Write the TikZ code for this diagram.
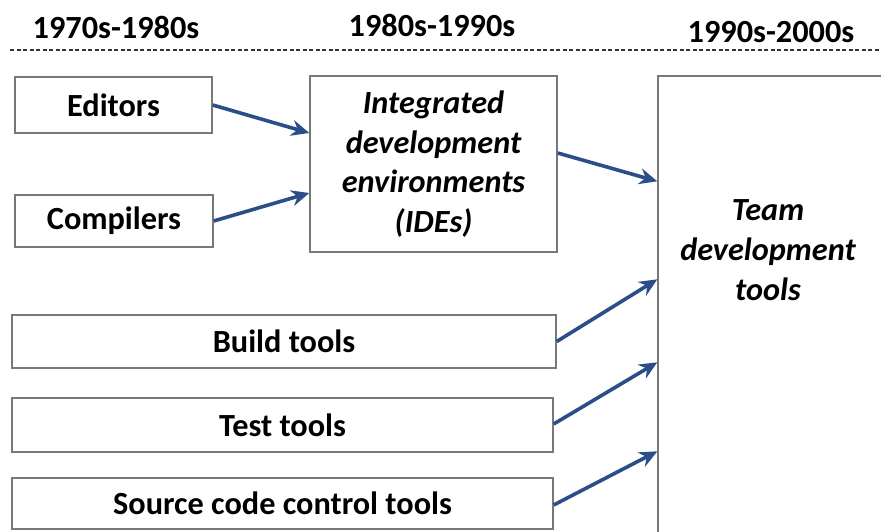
\documentclass[tikz,border=0pt]{standalone}
\usepackage{fontspec}
\setmainfont{Carlito}
\usetikzlibrary{arrows.meta}
\definecolor{arrowblue}{RGB}{44,78,136}
\definecolor{boxgray}{RGB}{120,120,120}
\tikzset{
  box/.style={draw=boxgray, line width=1.4pt, fill=white, inner sep=0pt,
    font=\fontsize{32.3}{39.7}\selectfont\bfseries, align=center},
  itbox/.style={box, font=\fontsize{32.3}{39.7}\selectfont\bfseries\itshape},
  conn/.style={draw=arrowblue, line width=3.6pt,
    -{Stealth[length=18pt,width=16pt,inset=6pt]}},
  hdr/.style={font=\fontsize{32.3}{36}\selectfont\bfseries, inner sep=0pt},
  lbl/.style={font=\fontsize{32.3}{39.7}\selectfont\bfseries\itshape, align=center, inner sep=0pt}
}
\begin{document}
\begin{tikzpicture}[x=1pt,y=-1pt]
\useasboundingbox[fill=white] (0,0) rectangle (881,531);
% headers
\node[hdr] (h1) at (116,27) {1970s-1980s};
\node[hdr] (h2) at (432,25) {1980s-1990s};
\node[hdr] (h3) at (771,32) {1990s-2000s};
\coordinate (dl) at (10,50);
\coordinate (dr) at (881,50);
\draw[line width=1.2pt, dash pattern=on 4pt off 2.5pt, black!80] (dl) -- (dr);
% boxes
\node[box, minimum width=197pt, minimum height=56pt] (editors) at (113.5,105) {Editors};
\node[box, minimum width=198pt, minimum height=52pt] (compilers) at (114,221) {Compilers};
\node[itbox, minimum width=247pt, minimum height=176pt] (ide) at (433.5,164)
  {Integrated\\development\\environments\\(IDEs)};
\node[box, minimum width=242pt, minimum height=484pt] (teambox) at (779,318) {};
\node[lbl] (team) at (768,250) {Team\\development\\tools};
\node[box, minimum width=544pt, minimum height=53pt] (build) at (284,341.5) {Build tools};
\node[box, minimum width=541pt, minimum height=54pt] (test) at (282.5,425) {Test tools};
\node[box, minimum width=541pt, minimum height=51pt] (source) at (282.5,503.5) {Source code control tools};
% connectors
\draw[conn] (editors.east) -- ([yshift=31pt]ide.west);
\draw[conn] (compilers.east) -- ([yshift=-29pt]ide.west);
\draw[conn] ([yshift=11pt]ide.east) -- ([yshift=-106pt]teambox.north west);
\draw[conn] (build.east) -- ([yshift=-204pt]teambox.north west);
\draw[conn] ([yshift=1pt]test.east) -- ([yshift=-287pt]teambox.north west);
\draw[conn] ([yshift=-1.5pt]source.east) -- ([yshift=-376pt]teambox.north west);
\end{tikzpicture}
\end{document}
